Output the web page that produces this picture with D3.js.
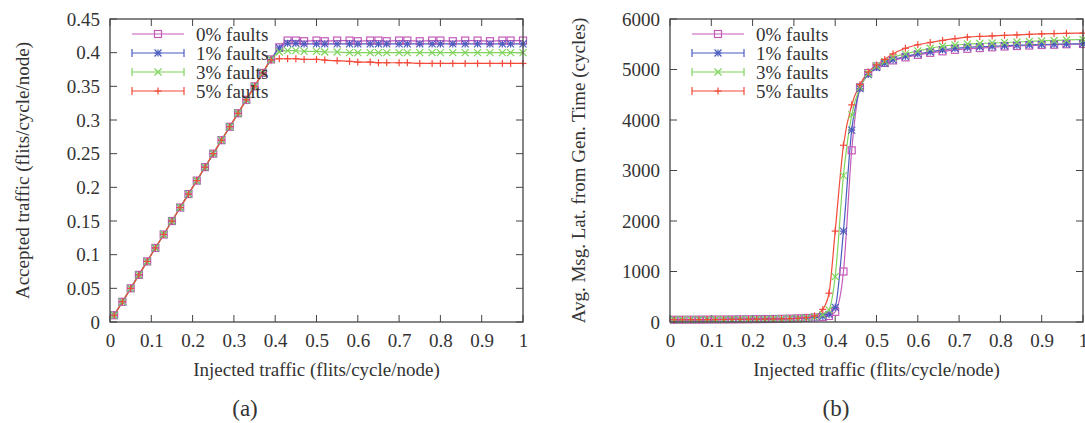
<!DOCTYPE html>
<html>
<head>
<meta charset="utf-8">
<script src="https://cdn.jsdelivr.net/npm/d3@7/dist/d3.min.js"></script>
<style>
  html, body { margin: 0; padding: 0; background: #fff; }
  svg { display: block; }
  svg text { font-family: "Liberation Serif", "Times New Roman", "DejaVu Serif", serif; }
</style>
</head>
<body>
<svg id="chart" width="1085" height="423"></svg>
<script>
// ---- data ----
const seriesNames = ["0% faults", "1% faults", "3% faults", "5% faults"];

// Panel (a): accepted traffic vs injected traffic
const injA = [0.01,0.03,0.05,0.07,0.09,0.11,0.13,0.15,0.17,0.19,0.21,0.23,0.25,0.27,0.29,0.31,0.33,0.35,0.37,0.39,0.41,
  0.43,0.45,0.47,0.50,0.52,0.55,0.58,0.60,0.63,0.65,0.67,0.70,0.72,0.75,0.78,0.80,0.83,0.86,0.89,0.92,0.95,0.97,1.00];
const acc0 = [0.01,0.03,0.05,0.07,0.09,0.11,0.13,0.15,0.17,0.19,0.21,0.23,0.25,0.27,0.29,0.31,0.33,0.35,0.37,0.39,0.408,
  0.418,0.418,0.417,0.418,0.417,0.418,0.418,0.417,0.418,0.418,0.417,0.418,0.418,0.417,0.418,0.418,0.417,0.418,0.418,0.417,0.418,0.418,0.418];
const acc1 = [0.01,0.03,0.05,0.07,0.09,0.11,0.13,0.15,0.17,0.19,0.21,0.23,0.25,0.27,0.29,0.31,0.33,0.35,0.37,0.39,0.407,
  0.414,0.414,0.413,0.413,0.413,0.413,0.413,0.413,0.413,0.413,0.413,0.413,0.413,0.413,0.413,0.413,0.413,0.413,0.413,0.413,0.413,0.413,0.413];
const acc3 = [0.01,0.03,0.05,0.07,0.09,0.11,0.13,0.15,0.17,0.19,0.21,0.23,0.25,0.27,0.29,0.31,0.33,0.35,0.37,0.39,0.401,
  0.403,0.403,0.402,0.402,0.401,0.401,0.400,0.400,0.400,0.400,0.400,0.400,0.400,0.400,0.400,0.400,0.400,0.400,0.400,0.400,0.400,0.400,0.400];
const acc5 = [0.01,0.03,0.05,0.07,0.09,0.11,0.13,0.15,0.17,0.19,0.21,0.23,0.25,0.27,0.29,0.31,0.33,0.35,0.37,0.389,0.391,
  0.391,0.391,0.390,0.390,0.389,0.388,0.387,0.386,0.386,0.385,0.385,0.385,0.385,0.384,0.384,0.384,0.384,0.384,0.384,0.384,0.384,0.384,0.384];

// Panel (b): average message latency vs injected traffic
const injB = [0.01,0.03,0.05,0.07,0.09,0.11,0.13,0.15,0.17,0.19,0.21,0.23,0.25,0.27,0.29,0.31,0.33,0.35,0.37,0.385,0.40,
  0.42,0.44,0.46,0.48,0.50,0.52,0.54,0.57,0.60,0.63,0.66,0.69,0.72,0.75,0.78,0.81,0.84,0.87,0.90,0.93,0.96,1.00];
const lat0 = [45,45,46,47,48,49,50,51,53,54,56,58,60,63,67,72,80,90,100,120,200,
  1000,3400,4650,4930,5060,5130,5180,5240,5290,5330,5360,5390,5410,5425,5440,5455,5465,5475,5485,5490,5500,5505];
const lat1 = [45,45,46,47,48,49,50,51,53,54,56,58,60,63,67,72,80,92,110,150,290,
  1800,3800,4620,4900,5040,5120,5190,5260,5310,5350,5390,5420,5440,5450,5460,5470,5480,5490,5495,5500,5505,5510];
const lat3 = [45,45,46,47,48,49,50,51,53,54,56,58,60,63,67,72,82,100,140,240,900,
  2900,4100,4650,4920,5070,5160,5240,5310,5370,5420,5460,5485,5505,5515,5525,5535,5545,5555,5565,5575,5585,5595];
const lat5 = [45,45,46,47,48,49,50,51,53,54,56,58,60,63,67,74,88,120,250,570,1800,
  3500,4300,4700,4950,5090,5200,5310,5420,5490,5535,5575,5610,5640,5655,5665,5675,5685,5695,5705,5712,5716,5720];

const xTicks = [0,0.1,0.2,0.3,0.4,0.5,0.6,0.7,0.8,0.9,1];
const yTicksA = [0,0.05,0.1,0.15,0.2,0.25,0.3,0.35,0.4,0.45];
const yTicksB = [0,1000,2000,3000,4000,5000,6000];

// ---- styles ----
const serif = '"Liberation Serif", "Times New Roman", "DejaVu Serif", serif';
const colors = ["#c45bb9", "#4b5cbf", "#7fd45c", "#f24a3b"];
const markers = ["square", "star", "cross", "plus"];
const axisColor = "#444";
const textColor = "#333";

const svg = d3.select("#chart");

function drawMarker(g, type, cx, cy, color) {
  const s = 3.5;
  if (type === "square") {
    g.append("rect").attr("x", cx - s).attr("y", cy - s).attr("width", 2 * s).attr("height", 2 * s)
      .attr("fill", "none").attr("stroke", color).attr("stroke-width", 1.2);
  } else {
    let segs = [];
    if (type === "plus" || type === "star") segs.push([cx - s, cy, cx + s, cy], [cx, cy - s, cx, cy + s]);
    if (type === "cross" || type === "star") segs.push([cx - s, cy - s, cx + s, cy + s], [cx - s, cy + s, cx + s, cy - s]);
    segs.forEach(d => g.append("line").attr("x1", d[0]).attr("y1", d[1]).attr("x2", d[2]).attr("y2", d[3])
      .attr("stroke", color).attr("stroke-width", 1.2));
  }
}

function panel(opts) {
  const { left, right, top, bottom, xs, ys, yDomain, yTicks, yFmt, yTitle, yTitleX, legendX, label } = opts;
  const x = d3.scaleLinear().domain([0, 1]).range([left, right]);
  const y = d3.scaleLinear().domain(yDomain).range([bottom, top]);
  const g = svg.append("g").attr("font-family", serif);

  // axis labels via d3.axis; inward ticks drawn separately below
  const xAxis = d3.axisBottom(x).tickValues(xTicks).tickSize(0).tickPadding(12).tickFormat(d3.format("~g"));
  const yAxis = d3.axisLeft(y).tickValues(yTicks).tickSize(0).tickPadding(10).tickFormat(yFmt);
  const gx = g.append("g").attr("transform", `translate(0,${bottom})`).call(xAxis);
  const gy = g.append("g").attr("transform", `translate(${left},0)`).call(yAxis);
  [gx, gy].forEach(a => {
    a.attr("font-family", serif);
    a.select(".domain").remove();
    a.selectAll("text").attr("font-size", 19).attr("fill", textColor).attr("font-family", serif);
  });

  const tl = 7;
  xTicks.forEach(v => {
    g.append("line").attr("x1", x(v)).attr("x2", x(v)).attr("y1", bottom).attr("y2", bottom - tl).attr("stroke", axisColor);
    g.append("line").attr("x1", x(v)).attr("x2", x(v)).attr("y1", top).attr("y2", top + tl).attr("stroke", axisColor);
  });
  yTicks.forEach(v => {
    g.append("line").attr("x1", left).attr("x2", left + tl).attr("y1", y(v)).attr("y2", y(v)).attr("stroke", axisColor);
    g.append("line").attr("x1", right).attr("x2", right - tl).attr("y1", y(v)).attr("y2", y(v)).attr("stroke", axisColor);
  });

  // series lines, then markers on top
  const line = d3.line().x(d => x(d[0])).y(d => y(d[1])).curve(d3.curveMonotoneX);
  ys.forEach((vals, i) => {
    const pts = xs.map((xv, j) => [xv, vals[j]]);
    g.append("path").attr("d", line(pts)).attr("fill", "none").attr("stroke", colors[i]).attr("stroke-width", 1.2);
  });
  ys.forEach((vals, i) => {
    const mg = g.append("g");
    xs.forEach((xv, j) => drawMarker(mg, markers[i], x(xv), y(vals[j]), colors[i]));
  });

  // frame
  g.append("rect").attr("x", left).attr("y", top).attr("width", right - left).attr("height", bottom - top)
    .attr("fill", "none").attr("stroke", axisColor).attr("stroke-width", 1.3);

  // legend
  const lg = g.append("g");
  seriesNames.forEach((name, i) => {
    const ly = 34 + i * 19;
    const x0 = legendX, x1 = legendX + 52, xm = legendX + 26;
    lg.append("line").attr("x1", x0).attr("x2", x1).attr("y1", ly).attr("y2", ly).attr("stroke", colors[i]).attr("stroke-width", 1.2);
    if (i > 0) {
      [x0, x1].forEach(cx => lg.append("line").attr("x1", cx).attr("x2", cx).attr("y1", ly - 4).attr("y2", ly + 4)
        .attr("stroke", colors[i]).attr("stroke-width", 1.2));
    }
    drawMarker(lg, markers[i], xm, ly, colors[i]);
    lg.append("text").attr("x", x1 + 12).attr("y", ly).attr("dy", "0.35em").attr("font-size", 19)
      .attr("fill", textColor).text(name);
  });

  // titles
  g.append("text").attr("x", (left + right) / 2).attr("y", 376).attr("text-anchor", "middle")
    .attr("font-size", 19).attr("fill", textColor).text("Injected traffic (flits/cycle/node)");
  g.append("text").attr("transform", `translate(${yTitleX},${(top + bottom) / 2}) rotate(-90)`)
    .attr("text-anchor", "middle").attr("dy", "0.35em").attr("font-size", 19).attr("fill", textColor).text(yTitle);
  g.append("text").attr("x", label[0]).attr("y", label[1]).attr("text-anchor", "middle")
    .attr("font-size", 23).attr("fill", textColor).text(label[2]);
}

panel({
  left: 110, right: 523, top: 19, bottom: 322,
  xs: injA, ys: [acc0, acc1, acc3, acc5],
  yDomain: [0, 0.45], yTicks: yTicksA, yFmt: d3.format("~g"),
  yTitle: "Accepted traffic (flits/cycle/node)", yTitleX: 22,
  legendX: 132, label: [245, 416, "(a)"]
});

panel({
  left: 670, right: 1083, top: 19, bottom: 322,
  xs: injB, ys: [lat0, lat1, lat3, lat5],
  yDomain: [0, 6000], yTicks: yTicksB, yFmt: d3.format("d"),
  yTitle: "Avg. Msg. Lat. from Gen. Time (cycles)", yTitleX: 578,
  legendX: 692, label: [836, 416, "(b)"]
});
</script>
</body>
</html>
